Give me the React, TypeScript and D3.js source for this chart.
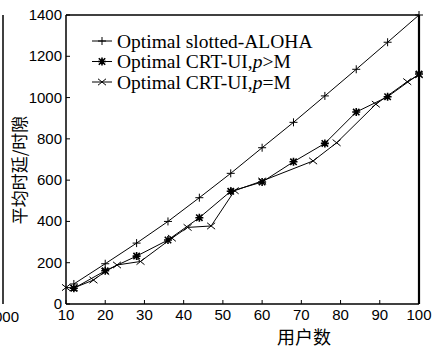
import React from "react";
import * as d3 from "d3";

const W = 432, H = 349;
const xTicks = [10, 20, 30, 40, 50, 60, 70, 80, 90, 100];
const yTicks = [0, 200, 400, 600, 800, 1000, 1200, 1400];

const alohaX = [12, 20, 28, 36, 44, 52, 60, 68, 76, 84, 92, 100];
const alohaY = [97, 195, 295, 400, 515, 633, 757, 880, 1008, 1137, 1268, 1400];

const crtGtX = [12, 20, 28, 36, 44, 52, 60, 68, 76, 84, 92, 100];
const crtGtY = [76, 161, 232, 310, 418, 546, 591, 689, 778, 930, 1004, 1114];

const crtEqX = [10, 12, 17, 20, 23, 29, 37, 41, 47, 53, 60, 73, 79, 89, 97, 100];
const crtEqY = [80, 78, 116, 157, 189, 206, 319, 371, 378, 549, 596, 693, 781, 968, 1077, 1110];

const legendLabels = ["Optimal slotted-ALOHA", "Optimal CRT-UI,", "Optimal CRT-UI,"];
const legendSuffix = ["", ">M", "=M"];

const L = 66, R = 419, T = 15, B = 304;

function Marker({ type, x, y }: { type: string; x: number; y: number }) {
  const s = 4;
  const plus = `M${x - s},${y}H${x + s}M${x},${y - s}V${y + s}`;
  const cross = `M${x - s * 0.8},${y - s * 0.8}L${x + s * 0.8},${y + s * 0.8}M${x - s * 0.8},${y + s * 0.8}L${x + s * 0.8},${y - s * 0.8}`;
  const d = type === "plus" ? plus : type === "cross" ? `M${x - s},${y - s * 0.8}L${x + s},${y + s * 0.8}M${x - s},${y + s * 0.8}L${x + s},${y - s * 0.8}` : plus + cross;
  return <path d={d} stroke="#000" strokeWidth={type === "star" ? 1.6 : 1} fill="none" />;
}

export default function App() {
  const x = d3.scaleLinear().domain([10, 100]).range([L, R]);
  const y = d3.scaleLinear().domain([0, 1400]).range([B, T]);
  const line = d3.line<[number, number]>().x(d => x(d[0])).y(d => y(d[1]));
  const series = [
    { xs: alohaX, ys: alohaY, m: "plus" },
    { xs: crtGtX, ys: crtGtY, m: "star" },
    { xs: crtEqX, ys: crtEqY, m: "cross" },
  ];
  const sans = "'Liberation Sans', Arial, sans-serif";
  const serif = "'Liberation Serif', 'Times New Roman', serif";
  const cjk = "'Noto Sans CJK SC', sans-serif";
  return (
    <svg width={W} height={H} style={{ position: "fixed", left: 0, top: 0, background: "#fff" }}>
      <rect width={W} height={H} fill="#fff" />
      {/* fragment of neighbouring chart */}
      <line x1={3} x2={3} y1={T} y2={B} stroke="#000" strokeWidth={1.5} />
      <text x={19} y={318} textAnchor="end" dominantBaseline="middle" fontFamily={sans} fontSize={15}>1000</text>

      <defs>
        <clipPath id="plotclip"><rect x={L - 6} y={T - 6} width={R - L + 12} height={B - T + 12} /></clipPath>
      </defs>
      <g clipPath="url(#plotclip)">
        {series.map((s, i) => (
          <g key={i}>
            <path d={line(s.xs.map((v, j) => [v, s.ys[j]] as [number, number])) || ""} fill="none" stroke="#000" strokeWidth={1} />
            {s.xs.map((v, j) => <Marker key={j} type={s.m} x={x(v)} y={y(s.ys[j])} />)}
          </g>
        ))}
      </g>

      {/* axes box */}
      <line x1={L} x2={R} y1={T} y2={T} stroke="#000" strokeWidth={1.5} />
      <line x1={L} x2={R} y1={B} y2={B} stroke="#000" strokeWidth={1.5} />
      <line x1={L} x2={L} y1={T} y2={B} stroke="#000" strokeWidth={1.5} />
      <line x1={R} x2={R} y1={T} y2={B} stroke="#000" strokeWidth={2.2} />

      {xTicks.map(t => (
        <g key={t}>
          <line x1={x(t)} x2={x(t)} y1={B} y2={B - 4} stroke="#000" strokeWidth={1} />
          <text x={x(t)} y={316} textAnchor="middle" dominantBaseline="middle" fontFamily={sans} fontSize={15}>{t}</text>
        </g>
      ))}
      {yTicks.map(t => (
        <g key={t}>
          <line x1={L} x2={L + 4} y1={y(t)} y2={y(t)} stroke="#000" strokeWidth={1} />
          <text x={62} y={y(t) + 1} textAnchor="end" dominantBaseline="middle" fontFamily={sans} fontSize={15}>{t}</text>
        </g>
      ))}

      <text x={304} y={339} textAnchor="middle" dominantBaseline="middle" fontFamily={cjk} fontSize={18}>用户数</text>
      <text transform={`translate(21,170) rotate(-90)`} textAnchor="middle" dominantBaseline="middle" fontFamily={cjk} fontSize={17}>平均时延/时隙</text>

      {legendLabels.map((lab, i) => {
        const ly = 41 + i * 20.5;
        const m = series[i].m;
        return (
          <g key={i}>
            <line x1={92} x2={112} y1={ly} y2={ly} stroke="#000" strokeWidth={1} />
            <Marker type={m} x={102} y={ly} />
            <text x={117} y={ly + 6.5} fontFamily={serif} fontSize={19.5}>
              {lab}
              {i > 0 && <tspan fontStyle="italic">p</tspan>}
              {legendSuffix[i]}
            </text>
          </g>
        );
      })}
    </svg>
  );
}
